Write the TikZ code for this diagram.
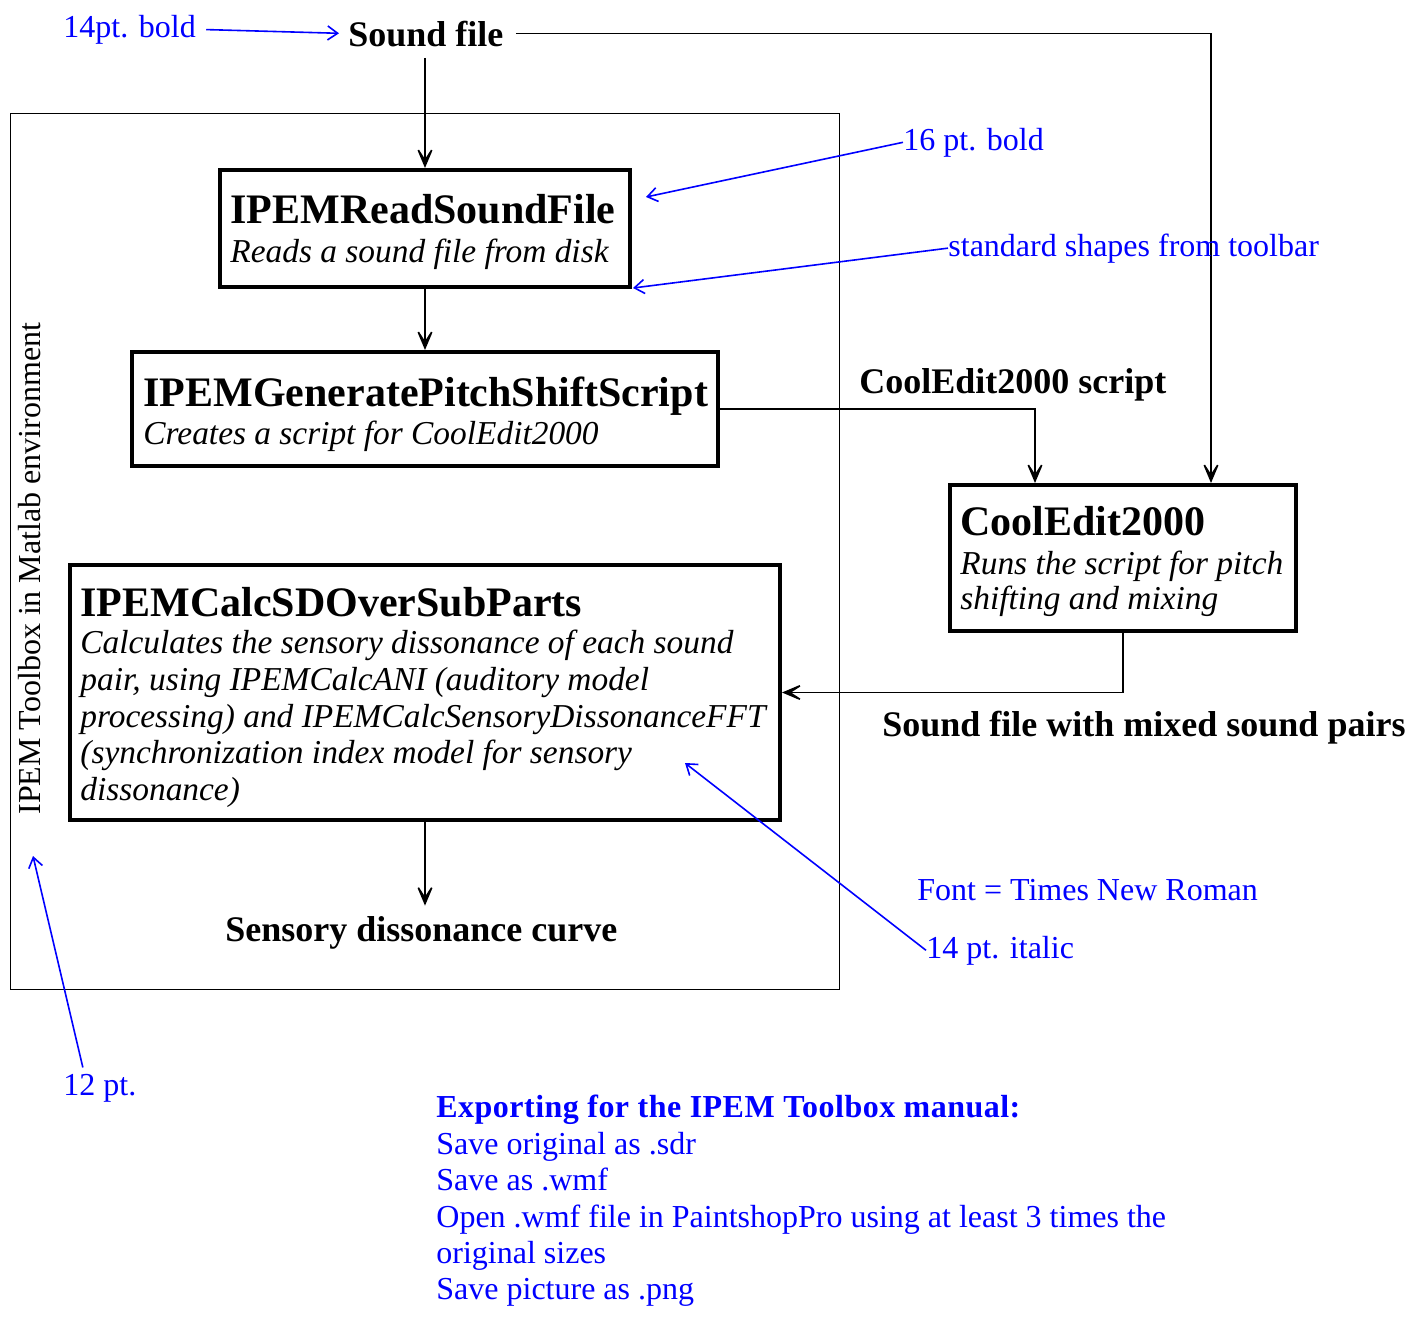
\documentclass[tikz,border=0pt]{standalone}
\usepackage{fontspec}
\setmainfont{Liberation Serif}
\usetikzlibrary{arrows.meta,fit}
\tikzset{
  box/.style={draw, line width=2pt, inner sep=0pt},
  outer/.style={draw, line width=0.5pt, inner sep=0pt},
  title/.style={font=\fontsize{21}{24}\selectfont\bfseries, anchor=base west, inner sep=0pt},
  desc/.style={font=\fontsize{16.7}{20}\selectfont\itshape, anchor=base west, inner sep=0pt},
  lab/.style={font=\fontsize{18}{20}\selectfont\bfseries, anchor=base west, inner sep=0pt},
  note/.style={font=\fontsize{16}{18}\selectfont, text=blue, anchor=base west, inner sep=0pt},
  arr/.style={line width=0.8pt, -{Stealth[length=13pt,width=11pt,inset=8.5pt]}},
  barr/.style={draw=blue, line width=0.8pt, -{Straight Barb[length=5pt,width=7pt]}}
}
\begin{document}
\begin{tikzpicture}[x=0.5pt,y=-0.5pt]
\useasboundingbox (0,0) rectangle (1414,1318);
% outer environment frame
\node[outer, fit={(10,113) (839,989)}] (env) {};
\node[rotate=90, font=\fontsize{16}{18}\selectfont, anchor=base west, inner sep=0pt] (envlbl) at (40,815) {IPEM Toolbox in Matlab environment};

% top sound file
\node[lab] (sound) at (348,46) {Sound file};

% boxes
\node[box, fit={(220,170) (630,287)}] (b1) {};
\node[title] (b1t) at (230,223) {IPEMReadSoundFile};
\node[desc] (b1d) at (230,262) {Reads a sound file from disk};

\node[box, fit={(132,352) (718,466)}] (b2) {};
\node[title] (b2t) at (143,406) {IPEMGeneratePitchShiftScript};
\node[desc] (b2d) at (143,444) {Creates a script for CoolEdit2000};

\node[box, fit={(950,485) (1296,631)}] (b3) {};
\node[title] (b3t) at (960,535) {CoolEdit2000};
\node[desc] (b3d1) at (960,574) {Runs the script for pitch};
\node[desc] (b3d2) at (960,609) {shifting and mixing};

\node[box, fit={(70,565) (780,820)}] (b4) {};
\node[title] (b4t) at (80,616) {IPEMCalcSDOverSubParts};
\node[desc] (b4d1) at (80,653) {Calculates the sensory dissonance of each sound};
\node[desc] (b4d2) at (80,690) {pair, using IPEMCalcANI (auditory model};
\node[desc] (b4d3) at (80,727) {processing) and IPEMCalcSensoryDissonanceFFT};
\node[desc] (b4d4) at (80,763) {(synchronization index model for sensory};
\node[desc] (b4d5) at (80,800) {dissonance)};

% labels
\node[lab] (scriptlbl) at (859,393) {CoolEdit2000 script};
\node[lab] (mixlbl) at (882,736) {Sound file with mixed sound pairs};
\node[lab] (curve) at (225,941) {Sensory dissonance curve};

% connectors
\draw[arr] (b1.north |- sound.south) ++(0,11) -- (b1.north);
\draw[arr] ([xshift=6pt]sound.east) -| ([xshift=44pt]b3.north);
\draw[arr] (b1.south) -- (b2.north);
\draw[arr] (b2.east) -| ([xshift=-44pt]b3.north);
\draw[arr] (b3.south) |- (b4.east);
\draw[arr, shorten >=5pt] (b4.south) -- (b4.south |- curve.north);

% blue annotations
\node[note] (n14b) at (63,37) {14pt. bold};
\node[note] (n16b) at (903,150) {16 pt. bold};
\node[note] (nstd) at (948,256) {standard shapes from toolbar};
\node[note] (nfont) at (917,900) {Font = Times New Roman};
\node[note] (n14i) at (926,958) {14 pt. italic};
\node[note] (n12) at (63,1095) {12 pt.};

\coordinate (t16) at (646,197);
\coordinate (tstd) at (633,288);
\coordinate (t14i) at (685,763);
\coordinate (t12) at (33,856);

\draw[barr, shorten <=5pt, shorten >=4.5pt] (n14b.east) -- (sound.west);
\draw[barr] (n16b.west) -- (t16);
\draw[barr] (nstd.west) -- (tstd);
\draw[barr] (n14i.west) -- (t14i);
\draw[barr] ([xshift=-8.5pt,yshift=3pt]n12.north) -- (t12);

% export notes
\node[note, font=\fontsize{16}{18}\selectfont\bfseries\addfontfeature{LetterSpace=1.5}] (e1) at (436,1117) {Exporting for the IPEM Toolbox manual:};
\node[note] (e2) at (436,1154) {Save original as .sdr};
\node[note] (e3) at (436,1190) {Save as .wmf};
\node[note] (e4) at (436,1227) {Open .wmf file in PaintshopPro using at least 3 times the};
\node[note] (e5) at (436,1263) {original sizes};
\node[note] (e6) at (436,1299) {Save picture as .png};
\end{tikzpicture}
\end{document}
